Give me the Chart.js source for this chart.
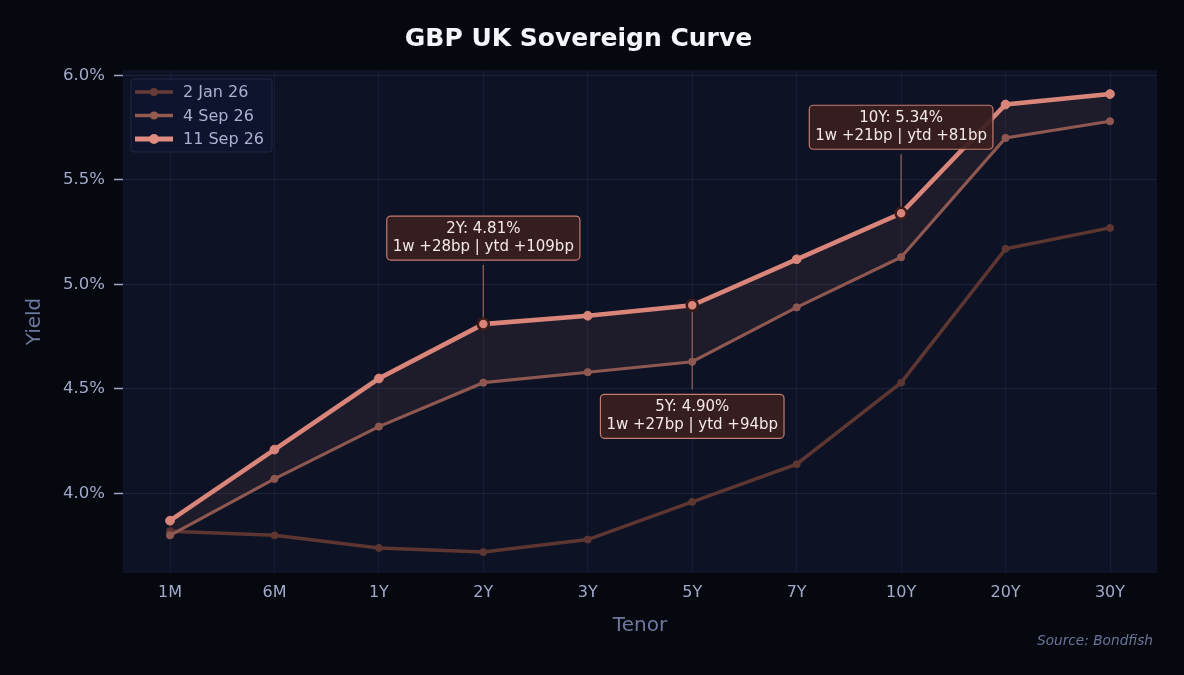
<!DOCTYPE html>
<html>
<head>
<meta charset="utf-8">
<script src="https://cdn.jsdelivr.net/npm/chart.js@4/dist/chart.umd.min.js"></script>
<style>
  html, body { margin: 0; padding: 0; background: #05080f; }
  #wrap { width: 1184px; height: 675px; }
</style>
</head>
<body>
<div id="wrap"><canvas id="c" width="1184" height="675"></canvas></div>
<script>
// ---- data ----
const tenors = ['1M', '6M', '1Y', '2Y', '3Y', '5Y', '7Y', '10Y', '20Y', '30Y'];
const yieldsJan2 = [3.82, 3.80, 3.74, 3.72, 3.78, 3.96, 4.14, 4.53, 5.17, 5.27];
const yieldsSep4 = [3.80, 4.07, 4.32, 4.53, 4.58, 4.63, 4.89, 5.13, 5.70, 5.78];
const yieldsSep11 = [3.87, 4.21, 4.55, 4.81, 4.85, 4.90, 5.12, 5.34, 5.86, 5.91];
const seriesLabels = ['2 Jan 26', '4 Sep 26', '11 Sep 26'];
const yTickValues = [4.0, 4.5, 5.0, 5.5, 6.0];
const highlightTenors = ['2Y', '5Y', '10Y'];
const titleText = 'GBP UK Sovereign Curve';
const sourceText = 'Source: Bondfish';

// ---- styles ----
const FONT = "'DejaVu Sans', sans-serif";
const colDark = '#5d3631';
const colMid = '#8e5851';
const colBright = '#d9857a';
const legendCols = ['#653d36', '#945b51', '#e08b7f'];
const annotationOffsetY = { '2Y': -86, '5Y': 111, '10Y': -86 };

function toXY(arr) { return arr.map((v, i) => ({ x: i, y: v })); }
function isHL(ctx) { return highlightTenors.includes(tenors[ctx.dataIndex]); }

const bgPlugin = {
  id: 'bgPlugin',
  beforeDraw(chart) {
    const { ctx, chartArea: a } = chart;
    ctx.save();
    ctx.fillStyle = '#05080f';
    ctx.fillRect(0, 0, chart.width, chart.height);
    ctx.fillStyle = '#0d1224';
    ctx.fillRect(a.left, a.top, a.right - a.left, a.bottom - a.top);
    ctx.restore();
  },
  beforeDatasetsDraw(chart) {
    const { ctx } = chart;
    const xs = chart.scales.x, ys = chart.scales.y;
    ctx.save();
    ctx.strokeStyle = '#8d5e5a';
    ctx.lineWidth = 1.3;
    highlightTenors.forEach(t => {
      const i = tenors.indexOf(t);
      const px = xs.getPixelForValue(i), py = ys.getPixelForValue(yieldsSep11[i]);
      const off = annotationOffsetY[t];
      const edge = py + off + (off < 0 ? 22 + 5 : -22 - 5);
      ctx.beginPath();
      ctx.moveTo(px, edge);
      ctx.lineTo(px, py);
      ctx.stroke();
    });
    ctx.restore();
  },
  afterDatasetsDraw(chart) {
    const { ctx } = chart;
    const xs = chart.scales.x, ys = chart.scales.y;
    ctx.save();
    ctx.font = '15px ' + FONT;
    highlightTenors.forEach(t => {
      const i = tenors.indexOf(t);
      const v = yieldsSep11[i];
      const wk = Math.round((v - yieldsSep4[i]) * 100);
      const ytd = Math.round((v - yieldsJan2[i]) * 100);
      const l1 = t + ': ' + v.toFixed(2) + '%';
      const l2 = '1w ' + (wk >= 0 ? '+' : '') + wk + 'bp | ytd ' + (ytd >= 0 ? '+' : '') + ytd + 'bp';
      const px = xs.getPixelForValue(i), py = ys.getPixelForValue(v);
      const cy = py + annotationOffsetY[t];
      const w = Math.max(ctx.measureText(l1).width, ctx.measureText(l2).width) + 12;
      const h = 44;
      const bx = px - w / 2, by = cy - h / 2;
      ctx.beginPath();
      ctx.roundRect(bx, by, w, h, 4);
      ctx.fillStyle = 'rgba(58,30,31,0.93)';
      ctx.fill();
      ctx.strokeStyle = '#c47b71';
      ctx.lineWidth = 1.2;
      ctx.stroke();
      ctx.fillStyle = '#f3e9e7';
      ctx.textAlign = 'center';
      ctx.textBaseline = 'middle';
      ctx.fillText(l1, px, cy - 9);
      ctx.fillText(l2, px, cy + 9);
    });
    ctx.restore();

    // legend
    const a = chart.chartArea;
    ctx.save();
    const lx = a.left + 8, ly = a.top + 9, lw = 141, lh = 73;
    ctx.beginPath();
    ctx.roundRect(lx, ly, lw, lh, 3);
    ctx.fillStyle = 'rgba(15,21,46,0.95)';
    ctx.fill();
    ctx.strokeStyle = '#1f2744';
    ctx.lineWidth = 1;
    ctx.stroke();
    const widths = [3.5, 3.5, 5];
    const radii = [4, 4, 5];
    ctx.font = '16px ' + FONT;
    ctx.textBaseline = 'middle';
    ctx.textAlign = 'left';
    seriesLabels.forEach((lab, k) => {
      const yy = ly + 13 + k * 23.5;
      ctx.strokeStyle = legendCols[k];
      ctx.lineWidth = widths[k];
      ctx.beginPath();
      ctx.moveTo(lx + 4, yy);
      ctx.lineTo(lx + 42, yy);
      ctx.stroke();
      ctx.fillStyle = legendCols[k];
      ctx.beginPath();
      ctx.arc(lx + 23, yy, radii[k], 0, Math.PI * 2);
      ctx.fill();
      ctx.fillStyle = '#a9b1d2';
      ctx.fillText(lab, lx + 52, yy + 1);
    });
    ctx.restore();
  },
  afterDraw(chart) {
    const { ctx } = chart;
    ctx.save();
    ctx.font = 'italic 13.7px ' + FONT;
    ctx.fillStyle = '#6b759b';
    ctx.textAlign = 'right';
    ctx.textBaseline = 'middle';
    ctx.fillText(sourceText, 1153, 641);
    ctx.restore();
  }
};

new Chart(document.getElementById('c'), {
  type: 'line',
  data: {
    datasets: [
      {
        label: seriesLabels[0],
        data: toXY(yieldsJan2),
        borderColor: colDark,
        backgroundColor: colDark,
        pointBackgroundColor: colDark,
        pointBorderColor: colDark,
        borderWidth: 3.5,
        pointRadius: 3.5,
        pointBorderWidth: 1,
        fill: false,
        order: 3
      },
      {
        label: seriesLabels[1],
        data: toXY(yieldsSep4),
        borderColor: colMid,
        backgroundColor: colMid,
        pointBackgroundColor: colMid,
        pointBorderColor: colMid,
        borderWidth: 3.2,
        pointRadius: 3.6,
        pointBorderWidth: 1,
        fill: false,
        order: 2
      },
      {
        label: seriesLabels[2],
        data: toXY(yieldsSep11),
        borderColor: colBright,
        backgroundColor: 'rgba(217,133,122,0.085)',
        pointBackgroundColor: colBright,
        pointBorderColor: ctx => isHL(ctx) ? '#3b1b19' : colBright,
        pointBorderWidth: ctx => isHL(ctx) ? 2.5 : 1,
        pointRadius: ctx => isHL(ctx) ? 5.5 : 4.4,
        borderWidth: 4.6,
        fill: '-1',
        order: 1
      }
    ]
  },
  options: {
    responsive: false,
    animation: false,
    devicePixelRatio: 1,
    layout: { padding: { left: 0, right: 27, top: 0, bottom: 0 } },
    plugins: {
      legend: { display: false },
      tooltip: { enabled: false },
      filler: { drawTime: 'beforeDatasetsDraw' },
      title: {
        display: true,
        text: titleText,
        color: '#f4f6fb',
        font: { family: FONT, size: 25, weight: 'bold' },
        padding: { top: 24, bottom: 16 }
      }
    },
    scales: {
      x: {
        type: 'linear',
        min: -0.45,
        max: 9.45,
        afterBuildTicks: s => { s.ticks = tenors.map((t, i) => ({ value: i })); },
        afterFit: s => { s.height = 102; },
        border: { display: false },
        grid: { color: 'rgba(40,48,80,0.35)', lineWidth: 1, drawTicks: false },
        ticks: {
          color: '#a0a9ca',
          font: { family: FONT, size: 16 },
          padding: 10,
          maxRotation: 0,
          autoSkip: false,
          callback: v => tenors[v]
        },
        title: {
          display: true,
          text: 'Tenor',
          color: '#6d789f',
          font: { family: FONT, size: 20 },
          padding: { top: 0, bottom: 37 }
        }
      },
      y: {
        min: 3.62,
        max: 6.025,
        afterBuildTicks: s => { s.ticks = yTickValues.map(v => ({ value: v })); },
        afterFit: s => { s.width = 123; },
        border: { display: false },
        grid: {
          color: 'rgba(40,48,80,0.55)',
          lineWidth: 1,
          drawTicks: true,
          tickLength: 9,
          tickColor: '#a0a9ca',
          tickWidth: 1.5
        },
        ticks: {
          color: '#a0a9ca',
          font: { family: FONT, size: 16.5 },
          padding: 9,
          callback: v => Number(v).toFixed(1) + '%'
        },
        title: {
          display: true,
          text: 'Yield',
          color: '#6d789f',
          font: { family: FONT, size: 20 },
          padding: { top: 23, bottom: 0 }
        }
      }
    }
  },
  plugins: [bgPlugin]
});
</script>
</body>
</html>
